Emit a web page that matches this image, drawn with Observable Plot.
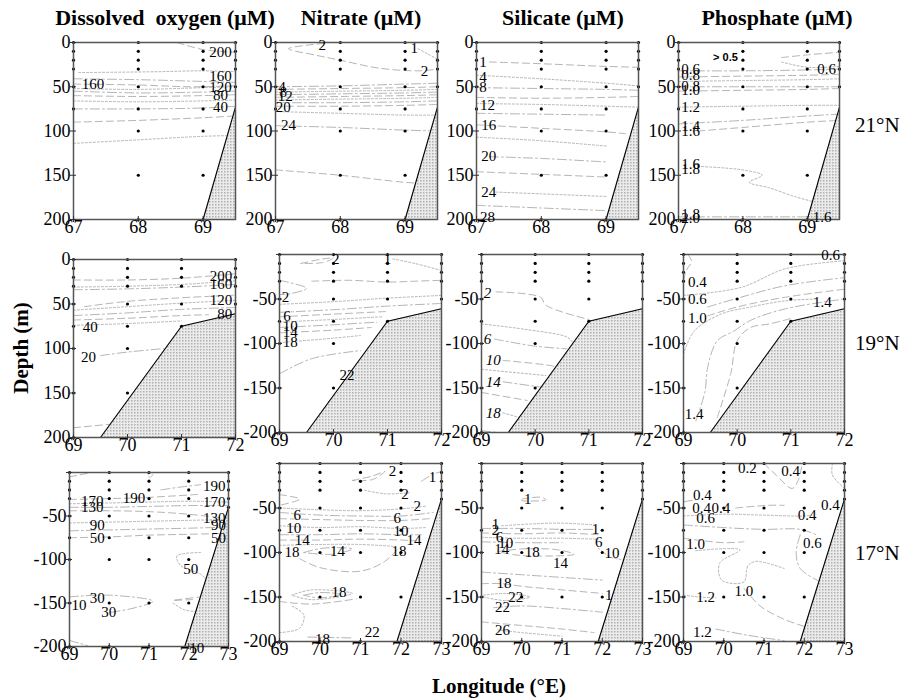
<!DOCTYPE html>
<html><head><meta charset="utf-8">
<script src="https://cdn.jsdelivr.net/npm/d3@7"></script>
<script src="https://cdn.jsdelivr.net/npm/@observablehq/plot@0.6"></script>
<style>
body{margin:0;background:#fff;}
#wrap{position:relative;width:900px;height:700px;overflow:hidden;}
#wrap svg.p{position:absolute;overflow:visible;}
</style></head><body>
<div id="wrap"></div>
<script>
// ---------- data ----------
const titles = ["Dissolved\u00a0 oxygen (\u03bcM)", "Nitrate (\u03bcM)", "Silicate (\u03bcM)", "Phosphate (\u03bcM)"];
const rowNames = ["21\u00b0N", "19\u00b0N", "17\u00b0N"];
const xTicks21 = [67, 68, 69];
const xTicks19 = [69, 70, 71, 72];
const xTicks17 = [69, 70, 71, 72, 73];
const depthTicksPos = [0, 50, 100, 150, 200];
const depthTicksNeg = [-50, -100, -150, -200];

const stations21 = [[67,[0,10,20,30,50,75]],[68,[0,10,20,30,50,75,100,150,200]],[69,[0,10,20,30,50,75,100,150,200]],[69.5,[0,10,20,30,50]]];
const stations19 = [[69,[0,10,20,30,50,75,100,150,200]],[70,[0,10,20,30,50,75,100,150]],[71,[0,10,20,30,50,75]],[72,[0,10,20,30,50]]];
const stations17 = [[69,[0,10,20,30,50,75,100,150,200]],[70,[0,10,20,30,50,75,100,150,200]],[71,[0,10,20,30,50,75,100,150,200]],[72,[0,10,20,30,50,75,100,150]],[73,[0,10,20,30,40]]];

const floor21 = [[69,200],[69.5,73]];
const floor19 = [[69.5,200],[71,75],[72,61]];
const floor17 = [[71.9,200],[73,40]];

// contour lines: [lon, depth] points
const oxy21 = [
 [[68.6,0],[69.0,8],[69.5,11]],
 [[67.08,34],[68.3,33],[69.0,32],[69.5,33]],
 [[67,41],[68,42],[69,44],[69.5,45]],
 [[67,47],[68,48],[68.8,50],[69.5,49]],
 [[67,52],[68,53],[69,51],[69.5,50]],
 [[67,55],[68,57],[69,56],[69.5,55]],
 [[67,60],[68,61],[69,60],[69.5,59]],
 [[67,66],[68,67],[69,66],[69.5,65]],
 [[67,75],[68,75],[69,74],[69.5,72]],
 [[67,90],[68,88],[69,85],[69.5,83]],
 [[67,114],[68,110],[69,106],[69.5,105]]
];
const oxy21Lab = [[69.27,11,"200"],[69.27,38,"160"],[67.3,47,"160"],[69.27,50,"120"],[69.27,59,"80"],[69.27,73,"40"]];

const nit21 = [
 [[67.75,1],[67.2,7],[67.6,14],[68.0,20],[68.6,29],[69.2,32],[69.5,30]],
 [[69.2,7],[69.35,13],[69.5,19]],
 [[67,50],[68,49],[69,47],[69.5,46]],
 [[67,53],[68,52],[69,51],[69.5,50]],
 [[67,56],[68,55],[69,54],[69.5,53]],
 [[67,59],[68,58],[69,57],[69.5,56]],
 [[67,62],[68,61],[69,60],[69.5,59]],
 [[67,65],[68,64],[69,63],[69.5,62]],
 [[67,68],[68,68],[69,67],[69.5,66]],
 [[67,72],[68,72],[69,71],[69.5,70]],
 [[67,78],[68,80],[69,82],[69.5,82]],
 [[67,94],[68,96],[69,99],[69.5,100]],
 [[67,144],[68,150],[69,158],[69.5,160]]
];
const nit21Lab = [[67.72,3,"2"],[69.14,6,"1"],[69.3,32,"2"],[67.1,50,"4"],[67.12,56,"8"],[67.15,61,"12"],[67.12,73,"20"],[67.2,93,"24"]];

const sil21 = [
 [[67.2,22],[68,24],[69,27],[69.5,28]],
 [[67,37],[68,41],[69,46],[69.5,49]],
 [[67,51],[68,52],[69,53],[69.5,54]],
 [[67,62],[68,63],[69,62],[69.5,61]],
 [[67,69],[68,70],[69,72],[69.5,73]],
 [[67,80],[68,81],[69,82]],
 [[67,93],[68,97],[69,101],[69.3,103]],
 [[67,107],[68,111],[69,117]],
 [[67.2,129],[68,131],[69,135]],
 [[67,146],[68,149],[69,152]],
 [[67.3,169],[68,171],[69,174]],
 [[67,184],[68,187],[69,190]]
];
const sil21Lab = [[67.1,22,"1"],[67.1,39,"4"],[67.1,51,"8"],[67.17,71,"12"],[67.19,93,"16"],[67.19,129,"20"],[67.19,169,"24"],[67.17,197,"28"]];

const pho21 = [
 [[68.6,17],[69.0,14],[69.5,11]],
 [[68.6,22],[69.0,28],[69.5,27]],
 [[67,32],[68,32],[69,31],[69.5,30]],
 [[67,39],[68,38],[69,37],[69.5,36]],
 [[67,44],[68,43],[69,42],[69.5,41]],
 [[67,50],[68,50],[69,50],[69.5,50]],
 [[67,55],[68,54],[69,53],[69.5,52]],
 [[67,73],[68,72],[69,71],[69.5,71]],
 [[67,92],[68,88],[69,83],[69.5,81]],
 [[67.3,100],[68,96],[69,90],[69.5,88]],
 [[67.3,140],[68,144],[68.3,150],[68.1,158],[68.4,164],[68.8,174],[69.1,180]],
 [[67,197],[68,197],[69,197]]
];
const pho21Lab = [[67.73,17,"> 0.5"],[69.3,30,"0.6"],[67.19,30,"0.6"],[67.19,37,"0.8"],[67.19,49,"0.8"],[67.19,54,"1.0"],[67.19,73,"1.2"],[67.19,95,"1.4"],[67.19,100,"1.6"],[67.19,137,"1.6"],[67.19,143,"1.8"],[67.19,194,"1.8"],[67.19,198,"2.0"],[69.23,197,"1.6"]];

const oxy19 = [
 [[69,23],[70,23],[71,21],[72,16]],
 [[69,31],[70,30],[71,28],[72,24]],
 [[69,34],[70,33],[71,31],[72,28]],
 [[69.2,53],[70,47],[71,43],[72,40]],
 [[69,57],[70,53],[71,49],[72,46]],
 [[69,63],[70,60],[71,56],[72,54]],
 [[69,68],[70,66],[71,63],[71.5,62]],
 [[69,74],[70,72],[71,69]],
 [[69.5,108],[70,104],[70.7,100]],
 [[69,189],[69.7,185]]
];
const oxy19Lab = [[71.73,19,"200"],[71.73,28,"160"],[71.73,46,"120"],[71.8,62,"80"],[69.31,76,"40"],[69.28,110,"20"]];

const nit19 = [
 [[69.4,10],[69.8,5],[70.0,4],[69.8,9],[69.4,10]],
 [[71.1,5],[71.5,10],[72,18]],
 [[69,29],[69.5,38],[69.2,44],[69,45]],
 [[69.6,30],[70.3,29],[71,31],[71.5,30],[72,29]],
 [[69,56],[70,53],[71,49],[72,46]],
 [[69,65],[70,62],[71,58],[72,55]],
 [[69,70],[70,67],[71,64]],
 [[69,76],[70,73],[70.9,70]],
 [[69,82],[70,79],[70.8,76]],
 [[69,88],[70,85],[70.7,82]],
 [[69,99],[70,94],[70.5,91]],
 [[69,134],[69.6,117],[70.5,108]],
 [[70.2,165],[70.1,157],[70.3,152],[70.5,150]]
];
const nit19Lab = [[70.04,5,"2"],[71.0,5,"1"],[69.11,48,"2"],[69.14,69,"6"],[69.2,80,"10"],[69.2,87,"14"],[69.2,99,"18"],[70.25,136,"22"]];

const sil19 = [
 [[69.27,42],[70.1,48],[70.2,57],[71,73]],
 [[69,78],[69.8,84],[70.6,93],[70.7,99]],
 [[69.24,95],[70,103],[70.6,106]],
 [[69.4,119],[70.3,125],[70.4,127]],
 [[69,129],[70.2,136]],
 [[69.4,143],[70.1,149]],
 [[69,155],[69.85,164]],
 [[69.4,178],[69.7,183]],
 [[69,198],[69.3,200]]
];
const sil19Lab = [[69.11,44,"2"],[69.11,95,"6"],[69.22,119,"10"],[69.22,143,"14"],[69.22,178,"18"]];

const pho19 = [
 [[69.08,0],[69.15,8],[69.05,18],[69,30]],
 [[69,46],[70.07,37],[70.9,16],[72,7]],
 [[69.45,59],[70.07,48],[70.9,35],[72,26]],
 [[69.45,69],[70,59],[70.9,48],[72,39]],
 [[69,112],[69.2,86],[69.7,67],[70.25,59],[70.9,52],[71.5,50]],
 [[69.23,187],[69.4,154],[69.45,127],[69.63,97],[69.94,86],[70.25,74],[70.9,61],[72,50]],
 [[69.63,183],[69.88,134],[70.0,97],[70.25,82],[70.6,78],[71,72]]
];
const pho19Lab = [[71.74,1,"0.6"],[69.26,31,"0.4"],[69.26,50,"0.6"],[69.26,71,"1.0"],[71.59,54,"1.4"],[69.2,179,"1.4"]];

const oxy17 = [
 [[69,5],[69.45,1]],
 [[70.96,0],[71.03,6],[71.12,0]],
 [[71.3,20],[71.75,17],[72.3,14]],
 [[69,31],[70,30],[70.8,29],[72.3,25]],
 [[69,36],[70,35],[71,34],[72,33],[73,34]],
 [[69,40],[70,40],[71,39],[72,38],[73,38]],
 [[69,44],[70,44],[71,45],[72,48],[72.8,52]],
 [[69,58],[70,57],[71,56],[72,55],[73,54]],
 [[69,67],[70,66],[71,65],[72,64],[72.8,63]],
 [[69,75],[70,74],[71,72],[72,71],[73,70]],
 [[72.3,92],[71.7,96],[71.8,107],[72.3,117],[72.5,126]],
 [[69,143],[70,141],[71.1,148],[70.6,156],[70,161]],
 [[72.1,146],[71.6,147],[72.3,143]],
 [[71.6,150],[71.9,158],[72.3,160]],
 [[69,193],[69.45,199]]
];
const oxy17Lab = [[72.64,16,"190"],[70.62,29,"190"],[69.57,33,"170"],[69.57,40,"130"],[72.64,34,"170"],[72.64,53,"130"],[69.7,61,"90"],[72.75,61,"90"],[72.75,75,"50"],[69.7,76,"50"],[72.05,111,"50"],[69.7,145,"30"],[69.24,152,"10"],[69.99,160,"30"],[72.2,202,"10"]];

const nit17 = [
 [[70.8,19],[71.3,14],[71.6,9],[71.3,18],[70.8,19]],
 [[71.1,30],[71.6,34],[72.2,33]],
 [[72.5,20],[72.8,12],[73,9]],
 [[69,35],[69.5,40],[69,47]],
 [[69,50],[70,52],[71,53],[72,51],[72.6,48]],
 [[69,55],[70,58],[71,59],[72,59],[72.8,55]],
 [[69,62],[70,63],[71,64],[72,64],[72.7,62]],
 [[69,70],[70,72],[71,71],[72,73],[72.6,72]],
 [[69,80],[70,80],[71,79],[72,80],[72.5,80]],
 [[69,86],[70,86],[71,85],[72,86],[72.4,87]],
 [[69,92],[70,91],[71,91],[71.8,93]],
 [[69.6,100],[70.1,95],[70.8,96],[70.3,102],[69.6,100]],
 [[69.5,107],[70,117],[71,121],[71.6,110],[71.9,97]],
 [[69.3,148],[69.8,142],[70.8,146],[69.8,153],[69.3,148]],
 [[69.6,148],[70,145],[70.5,147],[70,151],[69.6,148]],
 [[69,155],[69.8,158],[70.9,152]],
 [[69,190],[69.5,185],[69.6,170],[69.3,160]],
 [[69.7,195],[70.8,196]]
];
const nit17Lab = [[71.79,9,"2"],[72.78,15,"1"],[72.1,34,"2"],[72.4,48,"2"],[69.44,58,"6"],[71.91,61,"6"],[69.35,73,"10"],[72.0,76,"10"],[69.56,86,"14"],[72.32,86,"14"],[70.43,98,"14"],[71.95,98,"18"],[69.31,100,"18"],[70.47,145,"18"],[70.06,197,"18"],[71.29,190,"22"]];

const sil17 = [
 [[70.0,40],[70.5,38],[70.6,41],[70.0,42]],
 [[69.5,70],[70.2,68],[71,67],[71.8,69]],
 [[69,73],[70,73],[71,74],[71.8,74]],
 [[69,78],[70,79],[71,78],[71.9,80]],
 [[69,83],[70,84],[71,84],[71.9,85]],
 [[69,88],[70,89],[71,89]],
 [[69.4,99],[70,96],[70.9,97],[71.3,102],[70.6,104],[69.9,103],[69.4,99]],
 [[71.9,95],[72.2,105],[72.5,108]],
 [[69,122],[70,125],[71,128],[72,131]],
 [[69,135],[69.5,135],[70,138],[71,142],[72,146]],
 [[69.05,148],[69.6,146],[70.2,150],[69.6,154],[69.05,150]],
 [[69.3,162],[70,160],[71,163],[72,167]],
 [[69,178],[70,182],[71,186],[71.8,190]],
 [[69.4,187],[70,190],[71,194]]
];
const sil17Lab = [[70.15,40,"1"],[69.35,68,"1"],[69.35,75,"2"],[69.45,83,"6"],[69.6,89,"10"],[69.5,96,"14"],[70.26,100,"18"],[70.96,112,"14"],[71.83,74,"1"],[71.91,88,"6"],[72.24,101,"10"],[72.16,148,"1"],[69.56,135,"18"],[69.85,150,"22"],[69.52,162,"22"],[69.52,187,"26"]];

const pho17 = [
 [[71.0,0],[71.3,13],[71.7,28],[71.85,19],[71.95,0]],
 [[72.7,0],[72.7,13],[73,28]],
 [[69,43],[69.4,40]],
 [[70.3,50],[71.1,47],[71.5,47]],
 [[69,59],[70,57],[71,58],[72,59],[72.2,58]],
 [[69,69],[70,72],[71,74],[71.9,74],[72.3,80]],
 [[69,84],[70,89],[70.5,88]],
 [[69.3,98],[70.4,97],[69.9,112],[69.95,131],[70.5,133],[70.6,115],[70.8,110],[71.5,118]],
 [[71.9,80],[71.8,100],[71.9,118],[72.4,133]],
 [[70.5,140],[70.9,160],[71.5,175],[72,183]],
 [[69,148],[69.4,150],[69.8,151]],
 [[69.8,186],[70.6,193],[71.5,199]]
];
const pho17Lab = [[70.59,5,"0.2"],[71.66,9,"0.4"],[69.47,36,"0.4"],[69.45,50,"0.4"],[69.93,50,"0.4"],[69.55,62,"0.6"],[72.07,58,"0.4"],[72.65,47,"0.4"],[72.2,89,"0.6"],[69.3,91,"1.0"],[70.5,143,"1.0"],[69.55,150,"1.2"],[69.47,190,"1.2"]];

// ---------- layout ----------
const FONT = "Liberation Serif";
const panels = [
 {f:[73,42,235,219], xd:[67,69.5], neg:false, xt:xTicks21, st:stations21, fl:floor21, ln:oxy21, lb:oxy21Lab},
 {f:[275,42,437,219], xd:[67,69.5], neg:false, xt:xTicks21, st:stations21, fl:floor21, ln:nit21, lb:nit21Lab},
 {f:[476,42,638,219], xd:[67,69.5], neg:false, xt:xTicks21, st:stations21, fl:floor21, ln:sil21, lb:sil21Lab},
 {f:[678,42,839,219], xd:[67,69.5], neg:false, xt:xTicks21, st:stations21, fl:floor21, ln:pho21, lb:pho21Lab},
 {f:[73,259,235,437], xd:[69,72], neg:false, xt:xTicks19, st:stations19, fl:floor19, ln:oxy19, lb:oxy19Lab},
 {f:[279,254,441,432], xd:[69,72], neg:true, xt:xTicks19, st:stations19, fl:floor19, ln:nit19, lb:nit19Lab},
 {f:[481,254,642,432], xd:[69,72], neg:true, xt:xTicks19, st:stations19, fl:floor19, ln:sil19, lb:sil19Lab, italic:true},
 {f:[683,254,844,432], xd:[69,72], neg:true, xt:xTicks19, st:stations19, fl:floor19, ln:pho19, lb:pho19Lab},
 {f:[69,472,228,646], xd:[69,73], neg:true, xt:xTicks17, st:stations17, fl:floor17, ln:oxy17, lb:oxy17Lab},
 {f:[279,463,441,641], xd:[69,73], neg:true, xt:xTicks17, st:stations17, fl:floor17, ln:nit17, lb:nit17Lab},
 {f:[481,463,642,641], xd:[69,73], neg:true, xt:xTicks17, st:stations17, fl:floor17, ln:sil17, lb:sil17Lab},
 {f:[683,463,844,641], xd:[69,73], neg:true, xt:xTicks17, st:stations17, fl:floor17, ln:pho17, lb:pho17Lab}
];

const wrap = document.getElementById("wrap");
// overlay svg for pattern + titles
const ov = d3.select(wrap).append("svg").attr("width",900).attr("height",700)
  .style("position","absolute").style("left",0).style("top",0).attr("font-family",FONT);
const pat = ov.append("defs").append("pattern").attr("id","stip").attr("width",3).attr("height",3).attr("patternUnits","userSpaceOnUse");
pat.append("rect").attr("width",3).attr("height",3).attr("fill","#ebebeb");
pat.append("rect").attr("width",1.5).attr("height",1.5).attr("fill","#b0b0b0");

const titleX = [165, 361, 563, 777];
titles.forEach((t,i)=> ov.append("text").attr("x",titleX[i]).attr("y",25).attr("text-anchor","middle")
  .attr("font-size",22).attr("font-weight","bold").text(t));
const rowY = [132, 350, 560];
rowNames.forEach((t,i)=> ov.append("text").attr("x",855).attr("y",rowY[i]).attr("font-size",21).text(t));
ov.append("text").attr("transform","translate(28,348) rotate(-90)").attr("text-anchor","middle")
  .attr("font-size",21).attr("font-weight","bold").text("Depth (m)");
ov.append("text").attr("x",499).attr("y",693).attr("text-anchor","middle")
  .attr("font-size",21).attr("font-weight","bold").text("Longitude (\u00b0E)");

const dashes = ["7,4","2,2","9,3,2,3"];
const ml=50, mr=12, mt=12, mb=28;
panels.forEach(p=>{
  const [L,T,R,B] = p.f; const W=R-L, H=B-T;
  const s = p.neg ? -1 : 1;
  const fy = d => s*d;
  const st = p.st.flatMap(([x,ds])=>ds.map(d=>({x,y:fy(d)})));
  const ln = p.ln.flatMap((c,i)=>c.map(([x,d])=>({x,y:fy(d),i})));
  const fl = p.fl.map(([x,d])=>({x,y:fy(d)}));
  const lb = p.lb.map(([x,d,t])=>({x,y:fy(d),t}));
  const ytl = p.neg ? depthTicksNeg : depthTicksPos;
  const ytk = p.neg ? [0, ...depthTicksNeg] : depthTicksPos;
  const bottom = fy(200);
  const marks = [
    ...dashes.map((da,k)=>Plot.line(ln.filter(q=>q.i%3===k), {x:"x", y:"y", z:"i", stroke:"#ababab", strokeWidth:0.9, strokeDasharray:da, curve:"catmull-rom", clip:true})),
    Plot.areaY(fl, {x:"x", y1:()=>bottom, y2:"y", fill:"url(#stip)", clip:true}),
    Plot.line(fl, {x:"x", y:"y", stroke:"black", strokeWidth:1.1}),
    Plot.dot(st, {x:"x", y:"y", r:1.6, fill:"black", stroke:null}),
    Plot.frame({stroke:"#555", strokeWidth:1.5}),
    Plot.tickY(ytk, {y:d=>d, insetRight:W-6, dx:-3, stroke:"#333"}),
    Plot.tickX(p.xt, {x:d=>d, insetTop:H-6, dy:3, stroke:"#333"}),
    Plot.axisY(ytl, {tickSize:0, tickPadding:3, label:null, tickFormat:d=>String(d), fontSize:18, fontFamily:FONT}),
    Plot.axisX(p.xt, {tickSize:0, tickPadding:1, label:null, tickFormat:d=>String(d), fontSize:18, fontFamily:FONT}),
    Plot.text(lb, {x:"x", y:"y", text:"t", fontSize:15, fontFamily:FONT, fill:"black", fontStyle:p.italic?"italic":"normal"})
  ];
  const svg = Plot.plot({
    width: W+ml+mr, height: H+mt+mb,
    marginLeft: ml, marginRight: mr, marginTop: mt, marginBottom: mb,
    x: {domain: p.xd, label: null},
    y: {domain: p.neg ? [-200,0] : [0,200], reverse: !p.neg, label: null},
    style: {background:"transparent", color:"black", overflow:"visible"},
    marks
  });
  svg.classList.add("p");
  svg.setAttribute("font-family", FONT);
  svg.style.fontFamily = FONT;
  const sel = d3.select(svg);
  sel.selectAll("g").attr("font-family", FONT);
  sel.selectAll("text").style("font-family", FONT).attr("font-family", FONT);
  sel.selectAll("text").filter(function(){ return this.textContent.startsWith(">"); })
    .style("font-family", "Liberation Sans").attr("font-weight","bold").style("font-size","11px");
  svg.style.left = (L-ml)+"px";
  svg.style.top = (T-mt)+"px";
  wrap.appendChild(svg);
});
</script></body></html>
